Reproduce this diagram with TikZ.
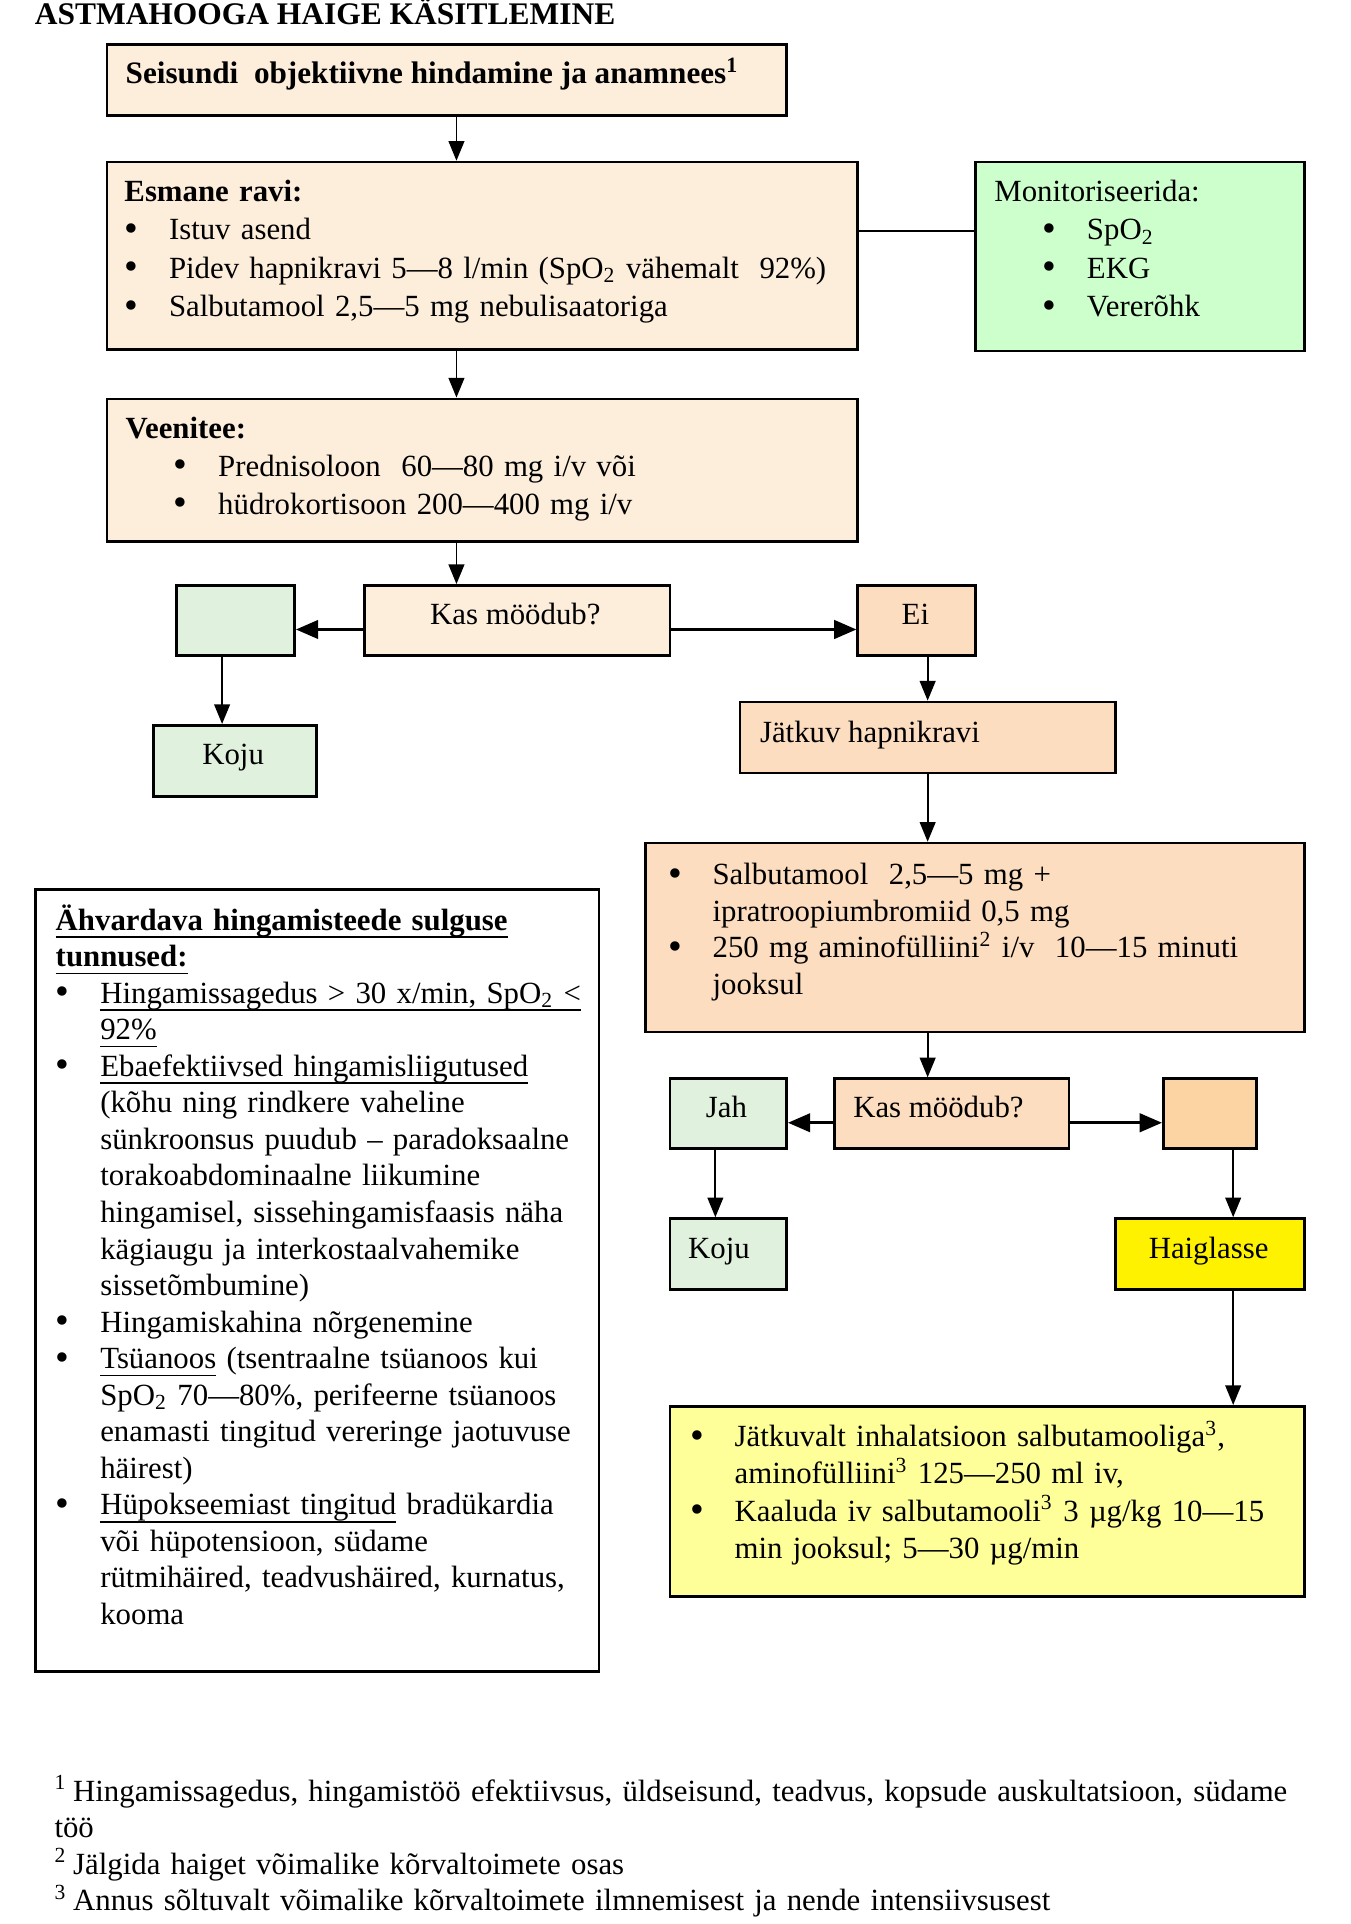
\documentclass[tikz,border=0pt]{standalone}
\usepackage{fontspec}
\setmainfont{Liberation Serif}
\usepackage{tikz}
\usetikzlibrary{arrows.meta, calc}

\def\dpx{0.468pt} % one pixel of the layout grid

\definecolor{peachlight}{HTML}{FDEEDC}
\definecolor{peach}{HTML}{FCDDBF}
\definecolor{peachdark}{HTML}{FCD3A2}
\definecolor{greenmint}{HTML}{CCFFCC}
\definecolor{greenpale}{HTML}{E0F2DD}
\definecolor{yellowpale}{HTML}{FFFF99}

\newcommand{\itm}{\makebox[17pt][l]{{\fontsize{15pt}{14pt}\selectfont\raisebox{-0.6pt}{•}}}}
\newcommand{\cnt}{\hspace*{17pt}}
\newcommand{\fn}[1]{\textsuperscript{#1}\hspace{2.5pt}}
\newsavebox{\undlbox}
\newcommand{\undl}[1]{\sbox{\undlbox}{#1}\rlap{\vrule height -2.3pt depth 2.95pt width \wd\undlbox}\usebox{\undlbox}}

\tikzset{
    box/.style={draw=black, line width=1pt, inner sep=0pt, anchor=north west},
    flow/.style={line width=0.7pt, -{Triangle[length=7.5pt,width=6pt]}},
    flowthick/.style={line width=1.2pt, -{Triangle[length=8.5pt,width=7pt]}},
    txt/.style={inner sep=0pt, font=\fontsize{11.75pt}{14pt}\selectfont},
    para/.style={inner sep=0pt, anchor=base west, text width=760*\dpx, align=left, font=\fontsize{11.75pt}{#1}\selectfont},
}

\begin{document}
\begin{tikzpicture}[x=\dpx, y=-\dpx]
    \useasboundingbox (0,0) rectangle (1101,1568);

    % --- Title ---
    \node[txt, anchor=base west, font=\fontsize{12pt}{14pt}\selectfont\bfseries] (title) at (28,20) {ASTMAHOOGA HAIGE KÄSITLEMINE};

    % --- Boxes (top left corner, width, height) ---
    \node[box, fill=peachlight, minimum width=554*\dpx, minimum height=58*\dpx] (seisund) at (86,35) {};
    \node[box, fill=peachlight, minimum width=612*\dpx, minimum height=153*\dpx] (esmane) at (86,131) {};
    \node[box, fill=greenmint, minimum width=268*\dpx, minimum height=154*\dpx] (monitor) at (794,131) {};
    \node[box, fill=peachlight, minimum width=612*\dpx, minimum height=116*\dpx] (veen) at (86,324) {};

    \node[box, fill=greenpale, minimum width=96*\dpx, minimum height=57*\dpx] (jahA) at (143,476) {};
    \node[box, fill=peachlight, minimum width=249*\dpx, minimum height=57*\dpx] (kasA) at (296,476) {};
    \node[box, fill=peach, minimum width=96*\dpx, minimum height=57*\dpx] (eiA) at (698,476) {};
    \node[box, fill=greenpale, minimum width=133*\dpx, minimum height=58*\dpx] (kojuA) at (124,590) {};
    \node[box, fill=peach, minimum width=306*\dpx, minimum height=58*\dpx] (jatkuv) at (602,571) {};
    \node[box, fill=peach, minimum width=537*\dpx, minimum height=154*\dpx] (salbu) at (525,686) {};

    \node[box, fill=greenpale, minimum width=95*\dpx, minimum height=57*\dpx] (jahB) at (545,878) {};
    \node[box, fill=peach, minimum width=191*\dpx, minimum height=57*\dpx] (kasB) at (679,878) {};
    \node[box, fill=peachdark, minimum width=76*\dpx, minimum height=57*\dpx] (eiB) at (947,878) {};
    \node[box, fill=greenpale, minimum width=95*\dpx, minimum height=58*\dpx] (kojuB) at (545,992) {};
    \node[box, fill=yellow, minimum width=154*\dpx, minimum height=58*\dpx] (haigl) at (908,992) {};
    \node[box, fill=yellowpale, minimum width=517*\dpx, minimum height=155*\dpx] (haiglRavi) at (545,1145) {};

    \node[box, fill=white, minimum width=459*\dpx, minimum height=637*\dpx] (ohud) at (28,724) {};

    % --- Texts ---
    \node[txt, anchor=base west, font=\fontsize{11.9pt}{14pt}\selectfont\bfseries] (seisundTxt) at (102,68)
        {Seisundi\ \ objektiivne hindamine ja anamnees\textsuperscript{1}};

    \node[para=14.66pt] (esmaneTxt) at (101,164) {%
        \textbf{Esmane ravi:}\\
        \itm Istuv asend\\
        \itm Pidev hapnikravi 5—8 l/min (SpO\textsubscript{2} vähemalt\ \ 92\%)\\
        \itm Salbutamool 2,5—5 mg nebulisaatoriga};

    \node[para=14.66pt] (monitorTxt) at (810,164) {%
        Monitoriseerida:\\
        \hspace*{18.3pt}\itm SpO\textsubscript{2}\\
        \hspace*{18.3pt}\itm EKG\\
        \hspace*{18.3pt}\itm Vererõhk};

    \node[para=14.5pt] (veenTxt) at (102,357) {%
        \textbf{Veenitee:}\\
        \hspace*{18.3pt}\itm Prednisoloon\ \ 60—80 mg i/v või\\
        \hspace*{18.3pt}\itm hüdrokortisoon 200—400 mg i/v};

    \node[txt, anchor=base] (kasATxt) at (420,509) {Kas möödub?};
    \node[txt, anchor=base] (eiATxt) at (746,509) {Ei};
    \node[txt, anchor=base] (kojuATxt) at (190,623) {Koju};
    \node[txt, anchor=base west] (jatkuvTxt) at (619,605) {Jätkuv hapnikravi};

    \node[para=13.9pt] (salbuTxt) at (544,721) {%
        \itm Salbutamool\ \ 2,5—5 mg +\\
        \cnt ipratroopiumbromiid 0,5 mg\\
        \itm 250 mg aminofülliini\textsuperscript{2} i/v\ \ 10—15 minuti\\
        \cnt jooksul};

    \node[txt, anchor=base] (jahBTxt) at (592,911) {Jah};
    \node[txt, anchor=base west] (kasBTxt) at (695,911) {Kas möödub?};
    \node[txt, anchor=base] (kojuBTxt) at (586,1026) {Koju};
    \node[txt, anchor=base] (haiglTxt) at (985,1026) {Haiglasse};

    \node[para=14.2pt] (haiglRaviTxt) at (562,1179) {%
        \itm Jätkuvalt inhalatsioon salbutamooliga\textsuperscript{3},\\
        \cnt aminofülliini\textsuperscript{3} 125—250 ml iv,\\
        \itm Kaaluda iv salbutamooli\textsuperscript{3} 3 µg/kg 10—15\\
        \cnt min jooksul; 5—30 µg/min};

    \node[para=13.94pt] (ohudTxt) at (45,758) {%
        \textbf{\undl{Ähvardava hingamisteede sulguse}}\\
        \textbf{\undl{tunnused:}}\\
        \itm \undl{Hingamissagedus > 30 x/min, SpO\textsubscript{2} <}\\
        \cnt \undl{92\%}\\
        \itm \undl{Ebaefektiivsed hingamisliigutused}\\
        \cnt (kõhu ning rindkere vaheline\\
        \cnt sünkroonsus puudub – paradoksaalne\\
        \cnt torakoabdominaalne liikumine\\
        \cnt hingamisel, sissehingamisfaasis näha\\
        \cnt kägiaugu ja interkostaalvahemike\\
        \cnt sissetõmbumine)\\
        \itm Hingamiskahina nõrgenemine\\
        \itm \undl{Tsüanoos} (tsentraalne tsüanoos kui\\
        \cnt SpO\textsubscript{2} 70—80\%, perifeerne tsüanoos\\
        \cnt enamasti tingitud vereringe jaotuvuse\\
        \cnt häirest)\\
        \itm \undl{Hüpokseemiast tingitud} bradükardia\\
        \cnt või hüpotensioon, südame\\
        \cnt rütmihäired, teadvushäired, kurnatus,\\
        \cnt kooma};

    % --- Footnotes ---
    \node[para=13.9pt, text width=1055*\dpx] (notes) at (44,1468) {%
        \fn{1}Hingamissagedus, hingamistöö efektiivsus, üldseisund, teadvus, kopsude auskultatsioon, südame\\
        töö\\
        \fn{2}Jälgida haiget võimalike kõrvaltoimete osas\\
        \fn{3}Annus sõltuvalt võimalike kõrvaltoimete ilmnemisest ja nende intensiivsusest};

    % --- Connectors ---
    \coordinate (colMain) at (372,0);
    \coordinate (colJah) at (181,0);
    \coordinate (colEi) at (756,0);
    \coordinate (colKoju) at (583,0);
    \coordinate (colHaigl) at (1005,0);
    \coordinate (rowA) at (0,513);
    \coordinate (rowB) at (0,915);
    \coordinate (rowMon) at (0,188);

    \draw[flow] (seisund.south -| colMain) -- (esmane.north -| colMain);
    \draw[flow] (esmane.south -| colMain) -- (veen.north -| colMain);
    \draw[flow] (veen.south -| colMain) -- (kasA.north -| colMain);
    \draw[line width=0.7pt] (esmane.east |- rowMon) -- (monitor.west |- rowMon);

    \draw[flowthick] (kasA.west |- rowA) -- (jahA.east |- rowA);
    \draw[flowthick] (kasA.east |- rowA) -- (eiA.west |- rowA);
    \draw[flow] (jahA.south -| colJah) -- (kojuA.north -| colJah);
    \draw[flow] (eiA.south -| colEi) -- (jatkuv.north -| colEi);
    \draw[flow] (jatkuv.south -| colEi) -- (salbu.north -| colEi);
    \draw[flow] (salbu.south -| colEi) -- (kasB.north -| colEi);

    \draw[flowthick] (kasB.west |- rowB) -- (jahB.east |- rowB);
    \draw[flowthick] (kasB.east |- rowB) -- (eiB.west |- rowB);
    \draw[flow] (jahB.south -| colKoju) -- (kojuB.north -| colKoju);
    \draw[flow] (eiB.south -| colHaigl) -- (haigl.north -| colHaigl);
    \draw[flow] (haigl.south -| colHaigl) -- (haiglRavi.north -| colHaigl);
\end{tikzpicture}
\end{document}
